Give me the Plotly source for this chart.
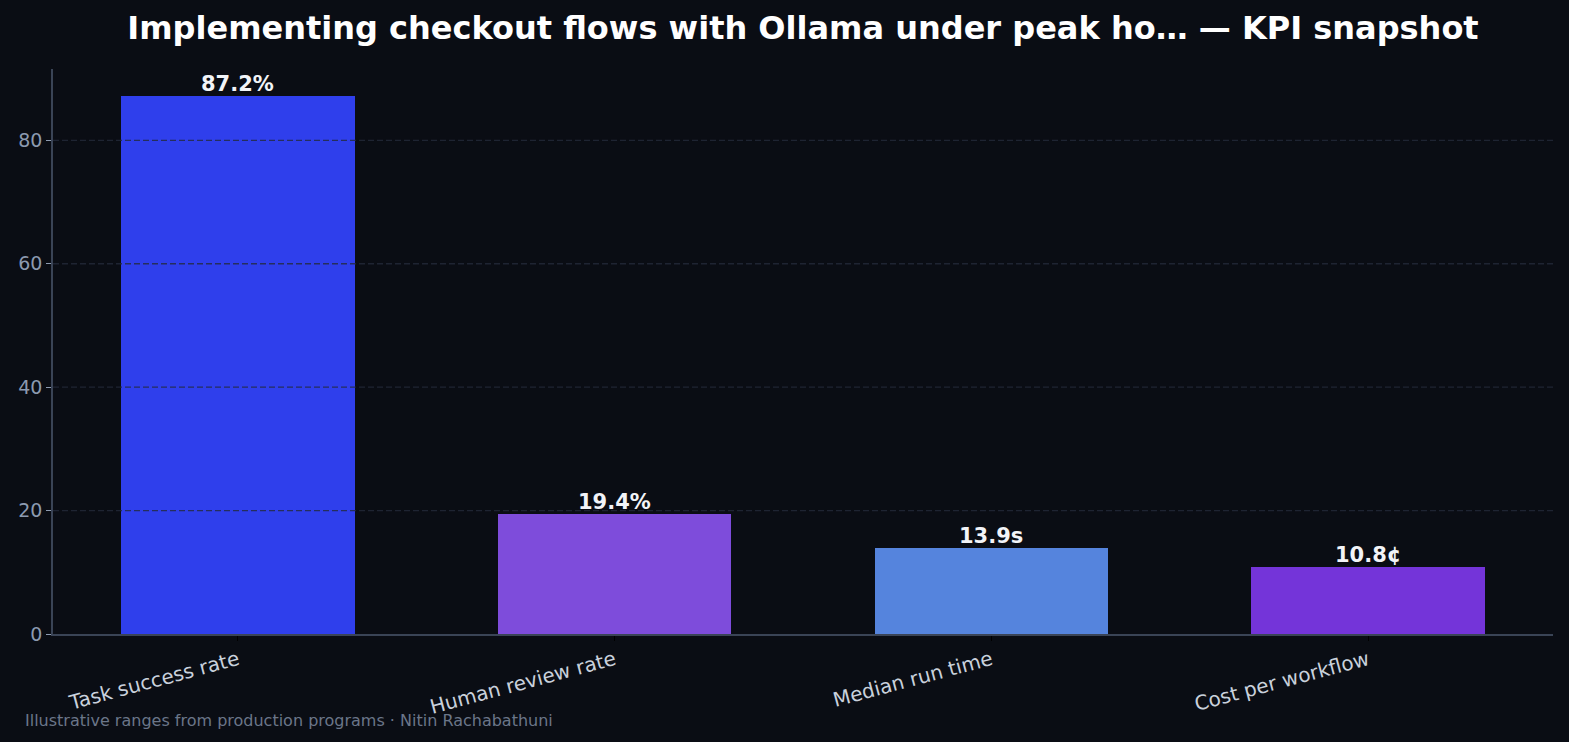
import plotly.graph_objects as go

categories = ["Task success rate", "Human review rate", "Median run time", "Cost per workflow"]
values = [87.2, 19.4, 13.9, 10.8]
value_labels = ["87.2%", "19.4%", "13.9s", "10.8¢"]
bar_colors = ["#2f3fec", "#7e4cdb", "#5584dd", "#7434d9"]
y_ticks = [0, 20, 40, 60, 80]

BG = "#0a0d14"
FONT = "DejaVu Sans"

x_pos = list(range(len(categories)))

fig = go.Figure()
fig.add_trace(go.Bar(
    x=x_pos,
    y=values,
    width=0.62,
    marker=dict(color=bar_colors, line=dict(width=0)),
    hoverinfo="skip",
))

for xi, v, lab in zip(x_pos, values, value_labels):
    fig.add_annotation(
        x=xi, y=v, xref="x", yref="y", text="<b>%s</b>" % lab,
        showarrow=False, xanchor="center", yanchor="bottom", yshift=-2,
        font=dict(family=FONT, size=21, color="#f2f4f8"),
    )

fig.update_layout(
    width=1569, height=742,
    paper_bgcolor=BG, plot_bgcolor=BG,
    margin=dict(l=53, r=16, t=69, b=108),
    showlegend=False,
    bargap=0,
    title=dict(
        text="<b>Implementing checkout flows with Ollama under peak ho… — KPI snapshot</b>",
        xref="paper", x=0.5, xanchor="center", y=0.962, yanchor="middle",
        font=dict(family=FONT, size=32, color="#ffffff"),
    ),
    font=dict(family=FONT),
)

fig.update_xaxes(
    range=[-0.491, 3.491],
    tickmode="array",
    tickvals=x_pos,
    ticktext=categories,
    tickangle=-15,
    tickfont=dict(family=FONT, size=20, color="#c9d1dc"),
    ticks="outside", ticklen=5, tickcolor="#000000", tickwidth=1,
    showline=True, linecolor="#3a4456", linewidth=1.5,
    showgrid=False, zeroline=False,
)
fig.update_yaxes(
    range=[0, 91.56],
    tickmode="array",
    tickvals=y_ticks,
    tickfont=dict(family=FONT, size=19, color="#8c9ab0"),
    ticks="outside", ticklen=5, tickcolor="#8c9ab0", tickwidth=1,
    showline=True, linecolor="#3a4456", linewidth=1.5,
    showgrid=False, zeroline=False,
)

for v in y_ticks[1:]:
    fig.add_shape(
        type="line", xref="paper", yref="y", x0=0, x1=1, y0=v, y1=v,
        line=dict(color="rgba(35,42,58,0.8)", width=1.3, dash="6px,3px"),
        layer="above",
    )

fig.add_annotation(
    text="Illustrative ranges from production programs · Nitin Rachabathuni",
    xref="paper", yref="paper", x=(23 - 53) / 1500, y=(634 - 720) / 565,
    xanchor="left", yanchor="middle", showarrow=False,
    font=dict(family=FONT, size=16, color="#6b7689"),
)

fig.write_html("out.html")
